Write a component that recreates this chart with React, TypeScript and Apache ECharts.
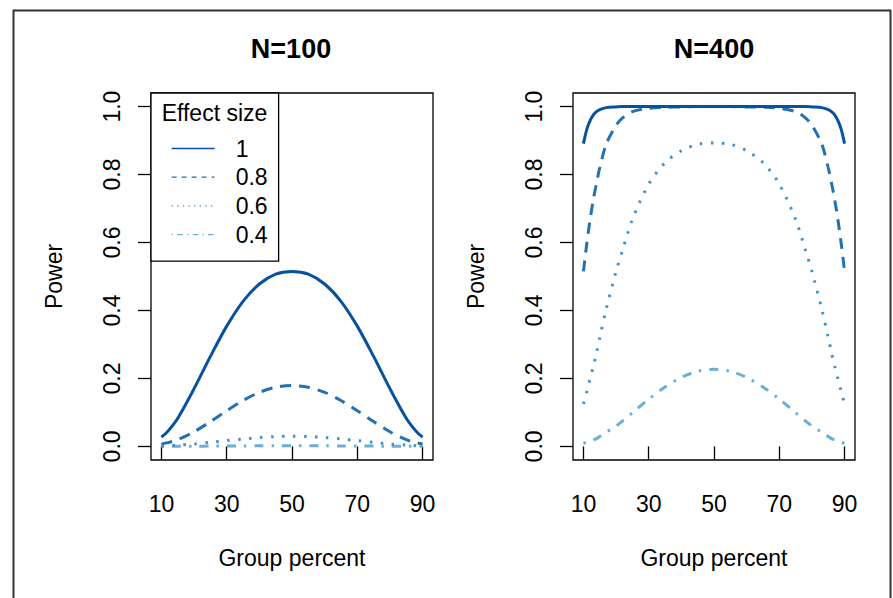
import React, { useEffect, useRef } from "react";
import * as echarts from "echarts";

const effectSizes = ["1", "0.8", "0.6", "0.4"];
const xTicks = [10, 30, 50, 70, 90];
const yTicks = [0, 0.2, 0.4, 0.6, 0.8, 1.0];

// N = 100 panel
const xLeft = [10, 12, 15, 20, 25, 30, 35, 40, 45, 50, 55, 60, 65, 70, 75, 80, 85, 88, 90];
const left_d10 = [0.027, 0.045, 0.083, 0.17, 0.265, 0.354, 0.427, 0.478, 0.507, 0.515, 0.507, 0.478, 0.427, 0.354, 0.265, 0.17, 0.083, 0.045, 0.027];
const left_d08 = [0.007, 0.011, 0.02, 0.043, 0.073, 0.105, 0.135, 0.159, 0.174, 0.179, 0.174, 0.159, 0.135, 0.105, 0.073, 0.043, 0.02, 0.011, 0.007];
const left_d06 = [0.001, 0.002, 0.004, 0.007, 0.012, 0.017, 0.022, 0.026, 0.029, 0.03, 0.029, 0.026, 0.022, 0.017, 0.012, 0.007, 0.004, 0.002, 0.001];
const left_d04 = [0.0002, 0.0003, 0.0004, 0.0006, 0.0009, 0.0012, 0.0015, 0.0017, 0.0019, 0.002, 0.0019, 0.0017, 0.0015, 0.0012, 0.0009, 0.0006, 0.0004, 0.0003, 0.0002];

// N = 400 panel
const xRight = [10, 11, 12, 13, 14, 15, 17, 20, 22, 25, 30, 35, 40, 45, 50, 55, 60, 65, 70, 75, 78, 80, 83, 85, 86, 87, 88, 89, 90];
const right_d10 = [0.891, 0.932, 0.958, 0.975, 0.985, 0.991, 0.997, 0.999, 1.0, 1.0, 1.0, 1.0, 1.0, 1.0, 1.0, 1.0, 1.0, 1.0, 1.0, 1.0, 1.0, 0.999, 0.997, 0.991, 0.985, 0.975, 0.958, 0.932, 0.891];
const right_d08 = [0.515, 0.595, 0.665, 0.725, 0.775, 0.82, 0.89, 0.945, 0.967, 0.985, 0.995, 0.998, 0.999, 1.0, 1.0, 1.0, 0.999, 0.998, 0.995, 0.985, 0.967, 0.945, 0.89, 0.82, 0.775, 0.725, 0.665, 0.595, 0.515];
const right_d06 = [0.125, 0.16, 0.198, 0.235, 0.275, 0.32, 0.405, 0.515, 0.578, 0.668, 0.772, 0.835, 0.87, 0.889, 0.893, 0.889, 0.87, 0.835, 0.772, 0.668, 0.578, 0.515, 0.405, 0.32, 0.275, 0.235, 0.198, 0.16, 0.125];
const right_d04 = [0.009, 0.012, 0.015, 0.019, 0.023, 0.029, 0.042, 0.06, 0.075, 0.099, 0.139, 0.175, 0.203, 0.221, 0.227, 0.221, 0.203, 0.175, 0.139, 0.099, 0.075, 0.06, 0.042, 0.029, 0.023, 0.019, 0.015, 0.012, 0.009];

const colors = ["#08519C", "#2171B5", "#4292C6", "#6BAED6"];
const plotDash: any[] = ["solid", [11, 8], [2.5, 8.5], [2.5, 8, 9, 8]];
const legendDash: any[] = ["solid", [5, 5], [1.4, 4.2], [1.4, 4.2, 5.6, 4.2]];

const FONT = "'Liberation Sans', Arial, Helvetica, sans-serif";

export default function App() {
  const ref = useRef<HTMLDivElement>(null);
  useEffect(() => {
    if (!ref.current) return;
    const chart = echarts.init(ref.current, null, { renderer: "svg" });
    const leftSets = [left_d10, left_d08, left_d06, left_d04];
    const rightSets = [right_d10, right_d08, right_d06, right_d04];
    const mkSeries = (xs: number[], sets: number[][], idx: number) =>
      sets.map((vals, i) => ({
        type: "line",
        name: effectSizes[i],
        xAxisIndex: idx,
        yAxisIndex: idx,
        data: xs.map((x, k) => [x, vals[k]]),
        showSymbol: false,
        symbol: "none",
        smooth: 0.3,
        lineStyle: { color: colors[i], width: 3, type: plotDash[i], cap: "butt" },
        itemStyle: { color: colors[i] },
        z: 10 - i,
      }));

    const grids = [
      { left: 151, top: 93, width: 282, height: 367 },
      { left: 573, top: 93, width: 282, height: 367 },
    ];

    const xAxisCfg = (gi: number) => ({
      type: "value",
      gridIndex: gi,
      min: 6.8,
      max: 93.2,
      splitLine: { show: false },
      axisLine: { show: false },
      axisTick: { show: true, inside: false, length: 13, customValues: xTicks, lineStyle: { color: "#000", width: 1.3 } },
      axisLabel: { customValues: xTicks, color: "#000", fontSize: 23, fontFamily: FONT, margin: 32 },
      name: "Group percent",
      nameLocation: "middle",
      nameGap: 86,
      nameTextStyle: { color: "#000", fontSize: 23, fontFamily: FONT },
    });
    const yAxisCfg = (gi: number) => ({
      type: "value",
      gridIndex: gi,
      min: -0.04,
      max: 1.04,
      splitLine: { show: false },
      axisLine: { show: false },
      axisTick: { show: true, inside: false, length: 13, customValues: yTicks, lineStyle: { color: "#000", width: 1.3 } },
      axisLabel: {
        customValues: yTicks,
        rotate: 90,
        color: "#000",
        fontSize: 23,
        fontFamily: FONT,
        margin: 28,
        formatter: (v: number) => v.toFixed(1),
      },
      name: "Power",
      nameLocation: "middle",
      nameRotate: 90,
      nameGap: 86,
      nameTextStyle: { color: "#000", fontSize: 23, fontFamily: FONT },
    });

    chart.setOption({
      animation: false,
      backgroundColor: "#fff",
      title: [
        { text: "N=100", left: 291, top: 35, textAlign: "center", padding: 0, textStyle: { fontSize: 27, fontWeight: "bold", color: "#000", fontFamily: FONT } },
        { text: "N=400", left: 714, top: 35, textAlign: "center", padding: 0, textStyle: { fontSize: 27, fontWeight: "bold", color: "#000", fontFamily: FONT } },
      ],
      grid: grids.map((g) => ({ ...g, show: true, borderColor: "#000", borderWidth: 1.3, backgroundColor: "transparent" })),
      xAxis: [xAxisCfg(0), xAxisCfg(1)],
      yAxis: [yAxisCfg(0), yAxisCfg(1)],
      legend: {
        show: true,
        orient: "vertical",
        left: 151,
        top: 93,
        padding: [44, 11, 15, 20],
        itemWidth: 43,
        itemHeight: 14,
        itemGap: 5.7,
        borderColor: "#000",
        borderWidth: 1.3,
        backgroundColor: "#fff",
        selectedMode: false,
        itemStyle: { opacity: 0 },
        textStyle: { color: "#000", fontSize: 23, fontFamily: FONT, padding: [0, 0, 0, 16] },
        data: effectSizes.map((n, i) => ({
          name: n,
          itemStyle: { opacity: 0 },
          lineStyle: { color: colors[i], width: 1.3, type: legendDash[i] },
        })),
        z: 20,
      },
      graphic: [
        {
          type: "rect",
          left: 11,
          top: 8,
          shape: { width: 877, height: 620 },
          style: { fill: "none", stroke: "#333", lineWidth: 2 },
          silent: true,
          z: 100,
        },
        {
          type: "text",
          x: 214.5,
          y: 113,
          style: { text: "Effect size", fill: "#000", fontSize: 23, fontFamily: FONT, align: "center", verticalAlign: "middle" },
          z: 100,
        },
      ],
      series: [...mkSeries(xLeft, leftSets, 0), ...mkSeries(xRight, rightSets, 1)],
    });
    return () => chart.dispose();
  }, []);
  return <div ref={ref} style={{ position: "absolute", left: 0, top: 0, width: 893, height: 598 }} />;
}
